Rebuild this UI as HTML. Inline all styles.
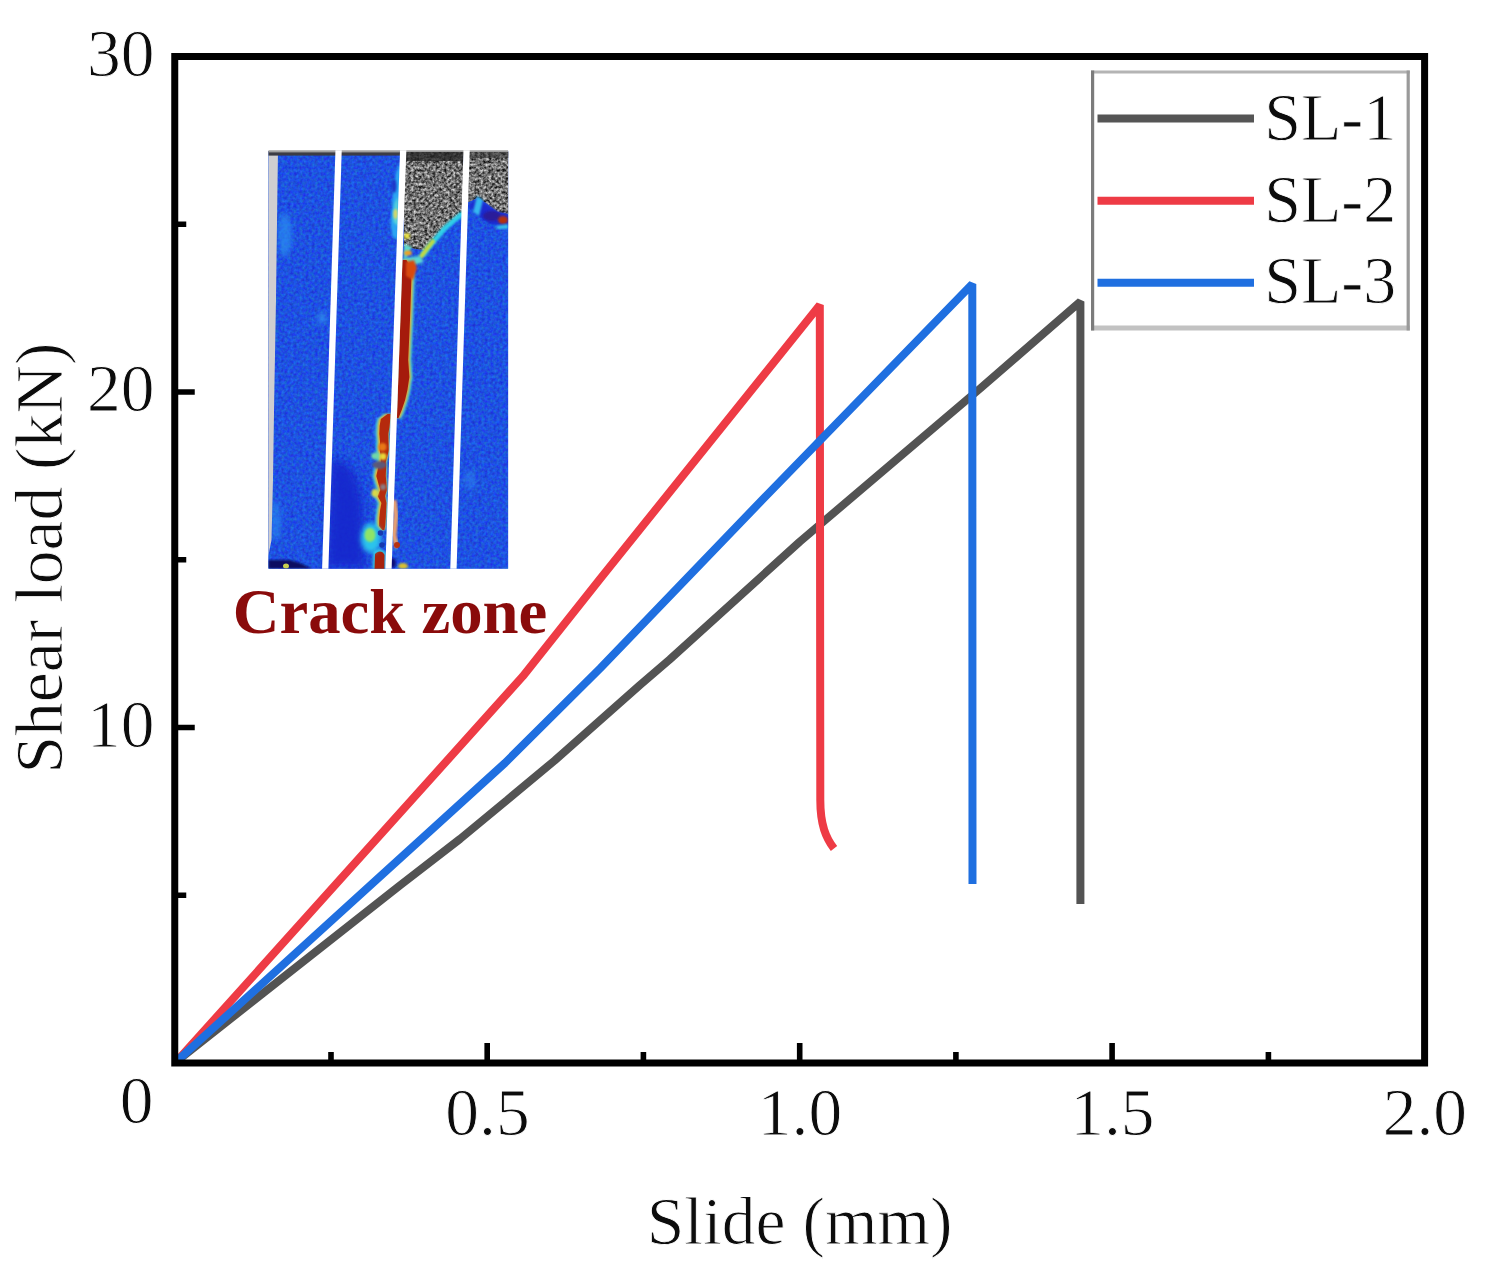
<!DOCTYPE html>
<html><head><meta charset="utf-8"><title>Shear load vs slide</title>
<style>
html,body{margin:0;padding:0;background:#fff;}
body{width:1493px;height:1283px;overflow:hidden;}
svg{display:block;filter:blur(0.45px);}
text{font-family:"Liberation Serif","Times New Roman",serif;fill:#0c0c0c;stroke:#fff;stroke-width:0.9px;}
</style></head><body>
<svg width="1493" height="1283" viewBox="0 0 1493 1283">
<rect width="1493" height="1283" fill="#fff"/>

<g fill="none" stroke-width="8" stroke-linejoin="bevel" stroke-linecap="butt">
<polyline points="177.0,1061.0 400.0,885.3 460.0,839.0 507.2,800.0 554.7,760.5 640.0,685.0 669.7,659.5 800.0,541.5 980.7,388.0 1080.4,301.5 1080.4,904.0" stroke="#535353"/>
<path d="M177.0,1061.0 522.7,676.4 600.0,579.0 819.8,305.0 L820.3,800 C820.3,825 826,838 834,848.5" stroke="#ee3b45"/>
<polyline points="177.0,1061.0 505.0,763.0 600.0,668.5 762.1,500.0 972.3,284.0 972.5,884.0" stroke="#1f6fe0"/>
</g>
<g stroke="#000" fill="none">
<rect x="174.75" y="56.5" width="1249.85" height="1006.5" stroke-width="7"/>
<path d="M487.2,1063.0 V1043.0 M799.7,1063.0 V1043.0 M1112.1,1063.0 V1043.0 M331.0,1063.0 V1052.0 M643.4,1063.0 V1052.0 M955.9,1063.0 V1052.0 M1268.4,1063.0 V1052.0 M174.75,727.5 H194.75 M174.75,392.0 H194.75 M174.75,895.2 H186.25 M174.75,559.8 H186.25 M174.75,224.2 H186.25" stroke-width="5.6"/>
</g>
<g font-size="67.5">
<text x="154.5" y="75.5" text-anchor="end">30</text>
<text x="154.5" y="410.5" text-anchor="end">20</text>
<text x="154.5" y="746.5" text-anchor="end">10</text>
<text x="136.5" y="1122.7" text-anchor="middle">0</text>
<text x="487.5" y="1135.2" text-anchor="middle">0.5</text>
<text x="800.0" y="1135.2" text-anchor="middle">1.0</text>
<text x="1112.4" y="1135.2" text-anchor="middle">1.5</text>
<text x="1424.9" y="1135.2" text-anchor="middle">2.0</text>
<text x="799.6" y="1244" text-anchor="middle">Slide (mm)</text>
<text transform="translate(62.4,558) rotate(-90)" text-anchor="middle">Shear load (kN)</text>
</g>
<rect x="1092.5" y="72" width="315.7" height="255.5" fill="#fff"/>
<path d="M1091,72 H1409.8" stroke="#b4b4b4" stroke-width="3.2" fill="none"/>
<path d="M1091,328 H1409.8" stroke="#c2c2c2" stroke-width="5.2" fill="none"/>
<path d="M1092.6,70.4 V330.6" stroke="#7c7c7c" stroke-width="3.2" fill="none"/>
<path d="M1408.2,70.4 V330.6" stroke="#9a9a9a" stroke-width="3.2" fill="none"/>
<line x1="1097.5" y1="118.6" x2="1254" y2="118.6" stroke="#555" stroke-width="8"/>
<line x1="1097.5" y1="200.7" x2="1254" y2="200.7" stroke="#ee3b45" stroke-width="8"/>
<line x1="1097.5" y1="282.8" x2="1254" y2="282.8" stroke="#1f6fe0" stroke-width="8"/>
<g font-size="67.5">
<text transform="translate(1264.3,139.8) scale(0.978,1)">SL-1</text>
<text transform="translate(1264.3,221.8) scale(0.978,1)">SL-2</text>
<text transform="translate(1264.3,303.4) scale(0.978,1)">SL-3</text>
</g>
<text transform="translate(390,632.6) scale(1.02,1)" text-anchor="middle" font-size="63.5" font-weight="bold" style="fill:#8a0b0b;stroke:none">Crack zone</text>
<defs>
<filter id="nzBlue" x="0" y="0" width="100%" height="100%" color-interpolation-filters="sRGB">
<feTurbulence type="fractalNoise" baseFrequency="0.33" numOctaves="2" seed="7" result="n"/>
<feColorMatrix in="n" type="matrix" values="0.12 0 0 0 0.06  0 0.42 0 0 0.11  0 0 0.3 0 0.73  0 0 0 0 1"/>
<feComposite in2="SourceGraphic" operator="in"/>
</filter>
<filter id="nzGray" x="0" y="0" width="100%" height="100%" color-interpolation-filters="sRGB">
<feTurbulence type="fractalNoise" baseFrequency="0.36" numOctaves="2" seed="11" result="n"/>
<feColorMatrix in="n" type="matrix" values="1.5 0 0 0 -0.30  1.5 0 0 0 -0.30  1.5 0 0 0 -0.30  0 0 0 0 1"/>
<feComposite in2="SourceGraphic" operator="in"/>
</filter>
<filter id="b05" x="-20%" y="-20%" width="140%" height="140%"><feGaussianBlur stdDeviation="0.7"/></filter>
<filter id="b1" x="-20%" y="-20%" width="140%" height="140%"><feGaussianBlur stdDeviation="1.2"/></filter>
<filter id="b2" x="-30%" y="-30%" width="160%" height="160%"><feGaussianBlur stdDeviation="2.5"/></filter>
<filter id="b4" x="-30%" y="-30%" width="160%" height="160%"><feGaussianBlur stdDeviation="5"/></filter>
<clipPath id="insetClip"><rect x="268.3" y="150.2" width="240" height="418.6"/></clipPath>
</defs>
<g id="inset" clip-path="url(#insetClip)">
<rect x="268.3" y="151" width="240" height="417.8" fill="#2153e3"/>
<rect x="268.3" y="151" width="240" height="417.8" fill="#2153e3" filter="url(#nzBlue)" opacity="0.9"/>
<!-- darker blue zone lower-left of strip 2 -->
<path d="M330,462 C345,455 358,470 362,500 L366,568 L326,568 Z" fill="#1627cc" filter="url(#b4)" opacity="0.9"/>
<!-- lighter patches -->
<ellipse cx="285" cy="235" rx="7" ry="22" fill="#2a8df0" opacity="0.7" filter="url(#b2)"/>
<ellipse cx="322" cy="318" rx="5" ry="6" fill="#2f86ee" opacity="0.8" filter="url(#b2)"/>
<ellipse cx="276" cy="520" rx="5" ry="20" fill="#2a8df0" opacity="0.6" filter="url(#b2)"/>
<ellipse cx="470" cy="480" rx="6" ry="10" fill="#2f86ee" opacity="0.5" filter="url(#b2)"/>
<!-- left gray band -->
<path d="M268.3,151 L278,151 L277.3,200 L276,300 L274.2,400 L273,480 L271.5,540 L268.3,556 Z" fill="#cfced0"/>
<!-- top dark band -->
<rect x="268.3" y="151" width="240" height="4.6" fill="#3c3c44"/>
<rect x="268.3" y="150" width="240" height="2.4" fill="#a0a0a0"/>
<!-- gray speckle regions -->
<g>
<path id="gz3" d="M404,152 L463,152 L463,213 L445,228 L432,243 L424,250 L404,247 Z" fill="#6c6c6c"/>
<path d="M404,152 L463,152 L463,213 L445,228 L432,243 L424,250 L404,247 Z" fill="#777" filter="url(#nzGray)" opacity="0.85"/>
<path id="gz4" d="M466,152 L508.3,152 L508.3,214 L498,212 L486,203 L478,198 L466,203 Z" fill="#6c6c6c"/>
<path d="M466,152 L508.3,152 L508.3,214 L498,212 L486,203 L478,198 L466,203 Z" fill="#777" filter="url(#nzGray)" opacity="0.85"/>
<rect x="404" y="152" width="60" height="9" fill="#222" opacity="0.75"/>
<rect x="466" y="152" width="43" height="6" fill="#333" opacity="0.6"/>
</g>
<!-- strip 4 features: dark blue / red blob under gray -->
<path d="M469,205 L478,198 L486,204 L498,212 L508,214 L508,226 L490,224 L476,214 Z" fill="#1a2ad0" filter="url(#b1)"/>
<path d="M477,196 L483,200 L479,216 L473,212 Z" fill="#35b8f0" filter="url(#b1)"/>
<ellipse cx="492" cy="216" rx="9" ry="5" fill="#2a1a9a" filter="url(#b1)"/>
<ellipse cx="503" cy="220" rx="5" ry="4" fill="#b5320c" filter="url(#b1)"/>
<path d="M496,226 L508,224 L508,229 L497,229 Z" fill="#38c0e8" filter="url(#b1)"/>
<!-- cyan edge along diagonal of gray zone in strip 3 -->
<path d="M463,213 L445,228 L432,243 L422,256" fill="none" stroke="#2fd0e8" stroke-width="5" filter="url(#b1)"/>
<path d="M434,240 L426,250 L420,258" fill="none" stroke="#c8d83a" stroke-width="4" filter="url(#b1)"/>
<path d="M404,244 L412,247 L404,262 Z" fill="#5ed8c8" filter="url(#b1)"/>
<path d="M404,258 L420,256 L424,262 L404,268 Z" fill="#5ad6d0" filter="url(#b1)"/>
<ellipse cx="407" cy="236" rx="3" ry="3" fill="#e8e040" filter="url(#b1)"/>
<ellipse cx="408" cy="253" rx="4" ry="2.5" fill="#f0a020" filter="url(#b1)"/>
<!-- cyan/yellow on right edge of strip 2 near top -->
<path d="M401,162 L396,172 L393,188 L392,205 L390.5,222 L392,236 L398,240 Z" fill="#2aa4f2" filter="url(#b1)"/>
<path d="M398,196 L394.5,204 L393.5,222 L398,226 Z" fill="#58d4d8" filter="url(#b1)"/>
<ellipse cx="395.5" cy="214" rx="2.2" ry="5" fill="#d8d868" filter="url(#b1)"/>
<ellipse cx="394" cy="186" rx="2.5" ry="7" fill="#1a34c8" filter="url(#b1)"/>
<!-- main red crack, strip 3 -->
<path d="M402.5,260 L402.2,268 L401.8,280 L401.1,300 L400.4,320 L399.7,340 L399.0,360 L398.4,377 L397.9,390 L397.6,400 L397.2,410 L397.0,418 L401.7,418 L404.9,410 L408.3,400 L410.6,390 L412.6,377 L411.4,360 L412.3,340 L413.2,320 L413.9,300 L414.6,280 L413.9,268 L409.7,260 Z" fill="#4ad6d2" filter="url(#b1)"/>
<path d="M402.5,260 L402.2,268 L401.8,280 L401.1,300 L400.4,320 L399.7,340 L399.0,360 L398.4,377 L397.9,390 L397.6,400 L397.2,410 L397.0,418 L399.8,418 L403.0,410 L406.4,400 L408.7,390 L410.7,377 L409.5,360 L410.4,340 L411.3,320 L412.0,300 L412.7,280 L412.0,268 L407.8,260 Z" fill="#f0a028" filter="url(#b1)"/>
<path d="M402.5,260 L402.2,268 L401.8,280 L401.1,300 L400.4,320 L399.7,340 L399.0,360 L398.4,377 L397.9,390 L397.6,400 L397.2,410 L397.0,418 L398.5,418 L401.7,410 L405.1,400 L407.4,390 L409.4,377 L408.2,360 L409.1,340 L410.0,320 L410.7,300 L411.4,280 L410.7,268 L406.5,260 Z" fill="#a51b0c"/>
<path d="M406,262 L414,260 L417,268 L413,280 L406,276 Z" fill="#d84a10" filter="url(#b1)"/>
<!-- lower crack, strip 2 -->
<path d="M383.5,414 L376.8,419 L375.6,426 L375.3,434 L376.0,442 L375.7,450 L376.5,456 L376.8,462 L374.1,468 L372.3,476 L374.5,484 L376.3,490 L373.6,496 L377.4,503 L376.1,510 L375.3,518 L375.1,526 L378.4,530 L385.4,530 L386.1,526 L386.8,518 L387.1,510 L387.4,503 L386.1,496 L387.8,490 L387.5,484 L386.8,476 L387.1,468 L386.8,462 L388.5,456 L389.7,450 L389.5,442 L389.3,434 L390.6,426 L391.3,419 L391.5,414 Z" fill="#3cc4e4" filter="url(#b1)"/>
<path d="M385.7,414 L379.0,419 L377.8,426 L377.5,434 L378.2,442 L377.9,450 L378.7,456 L379.0,462 L376.3,468 L374.5,476 L376.7,484 L378.5,490 L375.8,496 L379.6,503 L378.3,510 L377.5,518 L377.3,526 L380.6,530 L384.4,530 L385.1,526 L385.8,518 L386.1,510 L386.4,503 L385.1,496 L386.8,490 L386.5,484 L385.8,476 L386.1,468 L385.8,462 L387.5,456 L388.7,450 L388.5,442 L388.3,434 L389.6,426 L390.3,419 L390.5,414 Z" fill="#f0b428" filter="url(#b1)"/>
<path d="M387.5,414 L380.8,419 L379.6,426 L379.3,434 L380.0,442 L379.7,450 L380.5,456 L380.8,462 L378.1,468 L376.3,476 L378.5,484 L380.3,490 L377.6,496 L381.4,503 L380.1,510 L379.3,518 L379.1,526 L382.4,530 L384.4,530 L385.1,526 L385.8,518 L386.1,510 L386.4,503 L385.1,496 L386.8,490 L386.5,484 L385.8,476 L386.1,468 L385.8,462 L387.5,456 L388.7,450 L388.5,442 L388.3,434 L389.6,426 L390.3,419 L390.5,414 Z" fill="#b52c10" filter="url(#b05)"/>
<ellipse cx="382.5" cy="447" rx="4" ry="4" fill="#e87818" filter="url(#b1)"/>
<ellipse cx="376" cy="456" rx="5" ry="3.5" fill="#70d8a8" filter="url(#b1)"/>
<ellipse cx="383" cy="456.5" rx="3.5" ry="3.5" fill="#e8d838" filter="url(#b1)"/>
<ellipse cx="379.5" cy="465" rx="7" ry="4" fill="#5c5878" filter="url(#b1)"/>
<ellipse cx="375" cy="493" rx="3.5" ry="4" fill="#d8d848" filter="url(#b1)"/>
<ellipse cx="383" cy="487" rx="3" ry="3" fill="#8a7a80" filter="url(#b1)"/>
<path d="M373,552 C376,548 384,548 386,553 L385.5,569 L372.5,569 Z" fill="#38c0e0" filter="url(#b1)"/>
<path d="M375,554 C377.5,550.5 383,550.5 384.5,555 L384.3,569 L374.5,569 Z" fill="#a82410" filter="url(#b05)"/>
<!-- cyan/green blob -->
<ellipse cx="371" cy="538" rx="10" ry="15" fill="#2cc4ec" filter="url(#b2)"/>
<ellipse cx="370" cy="535" rx="5.5" ry="7" fill="#8ee468" filter="url(#b1)"/>
<ellipse cx="380.5" cy="533" rx="2.8" ry="2.8" fill="#1838b0" filter="url(#b05)"/>
<ellipse cx="382" cy="545" rx="2.8" ry="2.8" fill="#1838b0" filter="url(#b05)"/>
<!-- small crack bits at strip 3 bottom -->
<path d="M394,500 L396,515 L394,535 L397,548" fill="none" stroke="#e8a070" stroke-width="5" filter="url(#b1)"/>
<ellipse cx="397" cy="545" rx="3" ry="3" fill="#b83010"/>
<ellipse cx="403" cy="566" rx="5" ry="3" fill="#d8c030" filter="url(#b1)"/>
<ellipse cx="393" cy="563" rx="3" ry="5" fill="#10107a" filter="url(#b1)"/>
<!-- bottom-left dark -->
<path d="M268.3,560 L290,560 L300,563 L312,568.8 L268.3,568.8 Z" fill="#0c1060" filter="url(#b1)"/>
<ellipse cx="286" cy="566" rx="3" ry="2.5" fill="#c8d050"/>
<!-- white separators -->
<g stroke="#fff" stroke-width="6.3" fill="none">
<line x1="338.6" y1="150" x2="325.2" y2="570"/>
<line x1="403.2" y1="150" x2="388.4" y2="570"/>
<line x1="466.6" y1="150" x2="453.4" y2="570"/>
</g>
</g>

</svg></body></html>
